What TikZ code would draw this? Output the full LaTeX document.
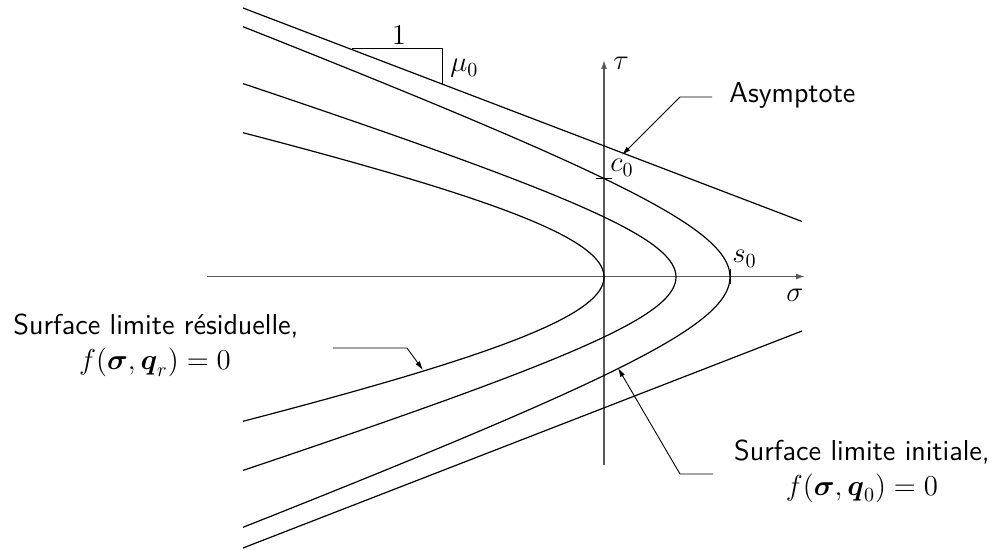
\documentclass[tikz,border=0pt]{standalone}
\usepackage{amsmath,amssymb}
\usetikzlibrary{arrows.meta}
\begin{document}
\begin{tikzpicture}[x=0.5pt,y=-0.5pt,
  every node/.style={font=\fontsize{14.4}{17.5}\selectfont, inner sep=0pt},
  curve/.style={line width=0.6pt, black},
  axis/.style={line width=0.75pt, black!65, -{Latex[length=4.5pt,width=3pt]}},
  leader/.style={line width=0.45pt, black, -{Latex[length=4.5pt,width=2.6pt]}},
  thin line/.style={line width=0.5pt, black}
]
\useasboundingbox (0,0) rectangle (995,550);

% axes
\coordinate (sigS) at (207,276.5);
\coordinate (sigE) at (805,276.5);
\coordinate (tauS) at (604,465);
\coordinate (tauE) at (604,60);
\draw[axis] (sigS) -- (sigE);
\draw[axis] (tauS) -- (tauE);

% asymptotes
\coordinate (a1) at (243,8);
\coordinate (a2) at (802,221.5);
\coordinate (b1) at (243,548);
\coordinate (b2) at (802,331);
\draw[curve] (a1) -- (a2);
\draw[curve] (b1) -- (b2);

% slope triangle
\coordinate (t1) at (352,49);
\coordinate (t2) at (442,49);
\coordinate (t3) at (442,84);
\draw[thin line] (t1) -- (t2) -- (t3);
\node[anchor=base] (one) at (399,45) {$1$};
\node[anchor=base west] (mu) at (450,72) {$\mu_0$};

% curves: residual (inner), middle, initial (outer)
\draw[curve] plot[domain=-144.3:144.3, samples=121, smooth, variable=\t]
  ({1022-100*sqrt(4.18*4.18+(\t/21.95)*(\t/21.95))},{277-\t});
\draw[curve] plot[domain=-193.4:193.4, samples=121, smooth, variable=\t]
  ({888-100*sqrt(2.12*2.12+(\t/31.75)*(\t/31.75))},{277-\t});
\draw[curve] plot[domain=-250.3:250.3, samples=121, smooth, variable=\t]
  ({935.8-100*sqrt(2.058*2.058+(\t/37.84)*(\t/37.84))},{277-\t});

% ticks
\coordinate (c0L) at (596,179);
\coordinate (c0R) at (612,179);
\draw[thin line] (c0L) -- (c0R);
\coordinate (s0T) at (730,269);
\coordinate (s0B) at (730,284);
\draw[thin line] (s0T) -- (s0B);

% axis labels
\node[anchor=base west] (tau) at (613,70) {$\tau$};
\node[anchor=base west] (sig) at (786,302) {$\sigma$};
\node[anchor=base west] (c0) at (610,172) {$c_0$};
\node[anchor=base west] (s0) at (732,263) {$s_0$};

% Asymptote label
\node[anchor=base west] (asy) at (729,103) {\sffamily Asymptote};
\coordinate (asyA) at (712,97);
\coordinate (asyB) at (680,97);
\coordinate (asyTip) at (622,155);
\draw[leader] (asyA) -- (asyB) -- (asyTip);

% residual label
\node[anchor=base] (res1) at (156,335) {\sffamily Surface limite r\'esiduelle,};
\node[anchor=base] (res2) at (155,370) {$f(\boldsymbol{\sigma},\boldsymbol{q}_r)=0$};
\coordinate (resA) at (333,348);
\coordinate (resB) at (407,348);
\coordinate (resTip) at (423,370);
\draw[leader] (resA) -- (resB) -- (resTip);

% initial label
\node[anchor=base] (ini1) at (862,460) {\sffamily Surface limite initiale,};
\node[anchor=base] (ini2) at (862,495) {$f(\boldsymbol{\sigma},\boldsymbol{q}_0)=0$};
\coordinate (iniA) at (713,474);
\coordinate (iniB) at (680,474);
\coordinate (iniTip) at (618,368);
\draw[leader] (iniA) -- (iniB) -- (iniTip);
\end{tikzpicture}
\end{document}
